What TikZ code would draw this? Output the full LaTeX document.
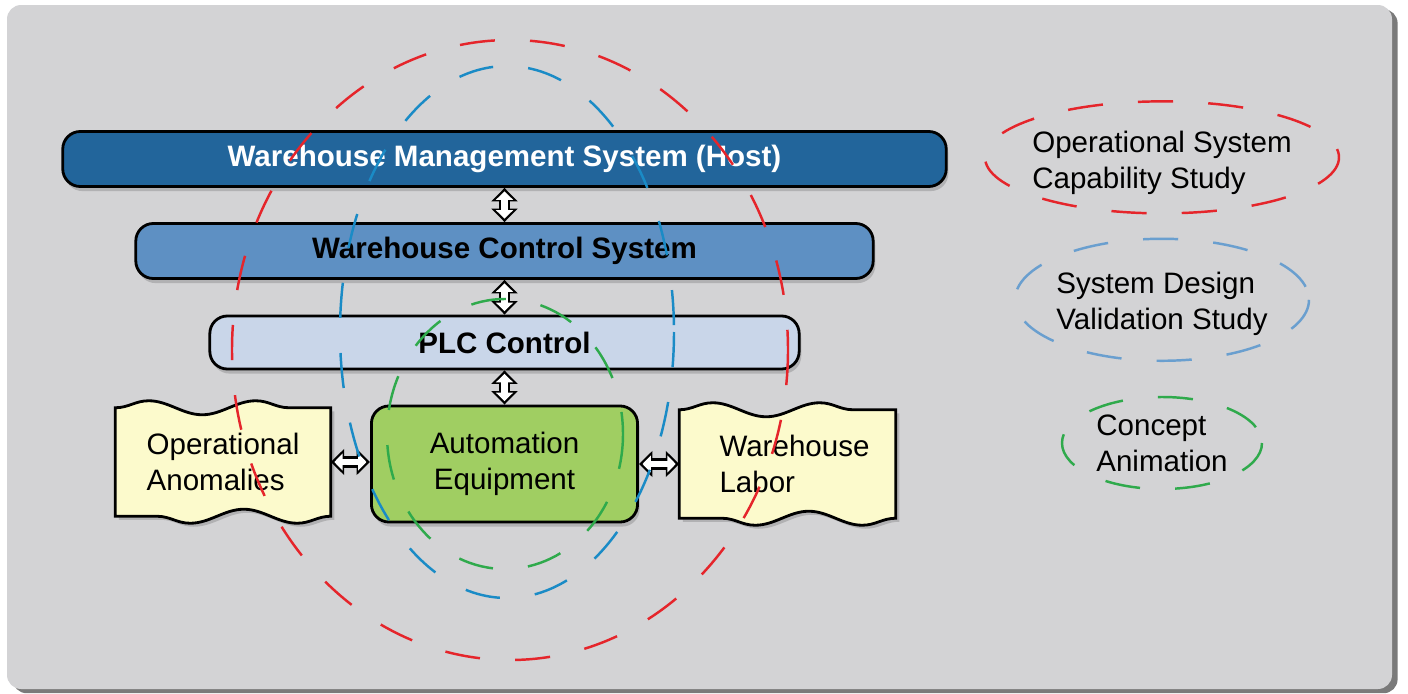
\documentclass[tikz,border=0pt]{standalone}
\usepackage{fontspec}
\setmainfont{Liberation Sans}
\usetikzlibrary{arrows.meta,shadows,decorations.pathmorphing}

\definecolor{panelgray}{HTML}{D3D3D5}
\definecolor{wmsblue}{HTML}{22659B}
\definecolor{wcsblue}{HTML}{5E90C3}
\definecolor{plcblue}{HTML}{C9D6E9}
\definecolor{autogreen}{HTML}{A0CE62}
\definecolor{paperyellow}{HTML}{FCFACC}
\definecolor{redring}{HTML}{E5252B}
\definecolor{bluering}{HTML}{1A8BC6}
\definecolor{softblue}{HTML}{6A9FCF}
\definecolor{greenring}{HTML}{2FAA4C}

\pgfdeclarelayer{behind}
\pgfsetlayers{behind,main}

\begin{document}
\begin{tikzpicture}[x=0.01cm, y=-0.01cm,
	every node/.style={font=\fontsize{8.4}{10.2}\selectfont, inner sep=0pt},
	box/.style={draw=black, line width=0.8pt, rounded corners=5pt,
		drop shadow={shadow xshift=0.6pt, shadow yshift=-1.3pt, opacity=0.4}},
	bar/.style={box, minimum height=0.55cm, font=\fontsize{8.4}{10.2}\selectfont\bfseries},
	paper/.style={draw=black, line width=0.8pt, fill=paperyellow,
		decoration={snake, amplitude=0.07cm, segment length=1.07cm},
		drop shadow={shadow xshift=1pt, shadow yshift=-1pt, opacity=0.4}},
	link/.style={line width=3.3pt, {Triangle[width=7.2pt,length=3.8pt]}-{Triangle[width=7.2pt,length=3.8pt]},
		postaction={draw=white, line width=1.8pt, shorten <=1pt, shorten >=1pt,
			{Triangle[width=4.8pt,length=2.4pt]}-{Triangle[width=4.8pt,length=2.4pt]}}},
	ring/.style={line width=0.7pt, dash pattern=on 10pt off 10pt}
]

	\useasboundingbox (0,0) rectangle (1408,694);

	\begin{pgfonlayer}{behind}
		\fill[panelgray, rounded corners=4pt,
			drop shadow={shadow xshift=1.6pt, shadow yshift=-1.2pt, fill=black!65, opacity=0.8}]
			(7,5) rectangle (1392,689);
	\end{pgfonlayer}

	\node[bar, fill=wmsblue, text=white, minimum width=8.83cm] (wms) at (504.5,159) {Warehouse Management System (Host)};
	\node[bar, fill=wcsblue, minimum width=7.37cm] (wcs) at (504.5,251) {Warehouse Control System};
	\node[bar, fill=plcblue, minimum width=5.89cm, minimum height=0.53cm] (plc) at (504.5,342.5) {PLC Control};
	\node[box, fill=autogreen, minimum width=2.66cm, minimum height=1.16cm, align=center] (auto) at (504.5,464) {Automation\\Equipment};
	\node[minimum width=2.14cm, minimum height=1.07cm, align=left] (anom) at (223,462) {Operational\\Anomalies};
	\node[minimum width=2.15cm, minimum height=1.07cm, align=left] (labor) at (787.5,464) {\hspace*{0.14cm}Warehouse\\\hspace*{0.14cm}Labor};

	\begin{pgfonlayer}{behind}
		\foreach \n in {anom,labor}
			\draw[paper] (\n.north west) decorate {-- (\n.north east)} -- (\n.south east) decorate {-- (\n.south west)} -- cycle;
	\end{pgfonlayer}

	\draw[link] (wms) -- (wcs);
	\draw[link] (wcs) -- (plc);
	\draw[link] (plc) -- (auto);
	\draw[link] (anom) -- (anom -| auto.west);
	\draw[link] (auto.east |- labor) -- (labor);

	\draw[ring, redring] (510,350) ellipse [x radius=278, y radius=310];
	\draw[ring, bluering] (507,332) ellipse [x radius=167, y radius=266];
	\draw[ring, greenring] (505,434) ellipse [x radius=118, y radius=135];

	\node[align=left] (oscs) at (1162,163) {Operational System\\Capability Study};
	\draw[ring, redring] ([yshift=1.6pt]oscs.center) ellipse [x radius=177, y radius=56];
	\node[align=left] (sdvs) at (1162,304) {System Design\\Validation Study};
	\draw[ring, softblue] ([yshift=1.2pt]sdvs.center) ellipse [x radius=147, y radius=61];
	\node[align=left] (ca) at (1162,443) {Concept\\Animation};
	\draw[ring, greenring] (ca.center) ellipse [x radius=100, y radius=46];

\end{tikzpicture}
\end{document}
